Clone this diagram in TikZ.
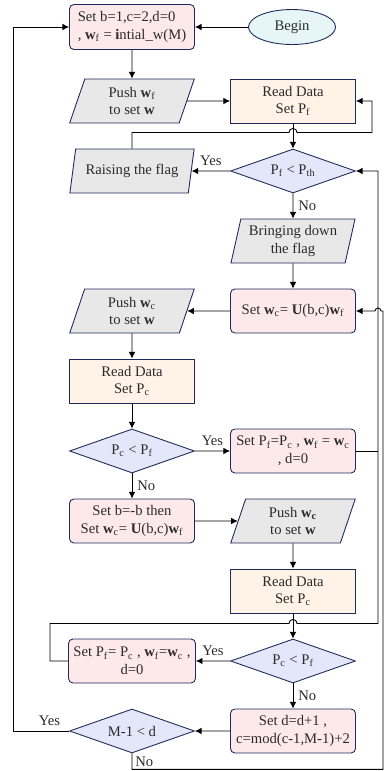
\documentclass[tikz,border=0pt]{standalone}
\usepackage{fontspec}
\setmainfont{Liberation Serif}
\usepackage{tikz}
\usetikzlibrary{positioning,calc}
\usetikzlibrary{arrows.meta,shapes.geometric}
\tikzset{>={Latex[length=4.5pt,width=4.5pt]}}
\definecolor{edgeblue}{HTML}{1F2A5A}
\definecolor{setpink}{HTML}{FDE8EA}
\definecolor{readorange}{HTML}{FEF3E6}
\definecolor{iogray}{HTML}{E8E8E8}
\definecolor{testblue}{HTML}{E4E7FA}
\definecolor{startcyan}{HTML}{E6F5F5}
\definecolor{textgray}{HTML}{2B2B2B}
\tikzset{
	setbox/.style={draw=edgeblue,minimum height=1.056cm,minimum width=3cm,align=center,rectangle,rounded corners=3pt,fill=setpink},
	readbox/.style={draw=edgeblue,minimum height=1.056cm,minimum width=3cm,align=center,rectangle,fill=readorange},
	iobox/.style={draw=edgeblue,minimum height=1.056cm,minimum width=3cm,align=center,trapezium,trapezium left angle=78,trapezium right angle=102,trapezium stretches=true,inner xsep=1pt,fill=iogray},
	decision/.style={draw=edgeblue,minimum height=1.056cm,minimum width=3cm,align=center,diamond,aspect=4,inner sep=0pt,fill=testblue},
	startnode/.style={draw=edgeblue,minimum height=0.84cm,minimum width=2.09cm,ellipse,inner sep=0pt,fill=startcyan},
}

\begin{document}
\begin{tikzpicture}[x=0.024cm,y=0.024cm,node distance=0.603cm,line width=0.6pt,
	font=\fontsize{10}{12}\selectfont,text=textgray]
	\useasboundingbox (0,0) rectangle (385,-771);
	
	% Start
	\node[setbox,align=left,minimum height=1.08cm] (init) at (132,-27) {Set b=1,c=2,d=0\\, \textbf{w}\textsubscript{f} = \textbf{i}ntial\_w(M)};
	\node[startnode,right=1.275cm of init] (begin) {Begin};
	
	% Left column
	\node[iobox,below=0.687cm of init] (pushf) {Push \textbf{w}\textsubscript{f}\\to set \textbf{w}};
	\node[iobox,below=of pushf] (raise) {Raising the flag};
	\node[iobox,below=2.283cm of raise] (pushc) {Push \textbf{w}\textsubscript{c}\\to set \textbf{w}};
	\node[readbox,below=of pushc] (readc) {Read Data\\Set P\textsubscript{c}};
	\node[decision,below=of readc] (test1) {P\textsubscript{c} < P\textsubscript{f}};
	\node[setbox,below=of test1] (flip) {Set b=-b then\\Set \textbf{w}\textsubscript{c}= \textbf{U}(b,c)\textbf{w}\textsubscript{f}};
	\node[setbox,below=2.283cm of flip] (keep2) {Set P\textsubscript{f}= P\textsubscript{c} , \textbf{w}\textsubscript{f}=\textbf{w}\textsubscript{c} ,\\d=0};
	\node[decision,below=of keep2] (limit) {M-1 < d};
	
	% Right column
	\node[readbox] (readf) at (293,-101) {Read Data\\Set P\textsubscript{f}};
	\node[decision,below=of readf] (flagtest) {P\textsubscript{f} < P\textsubscript{th}};
	\node[iobox,below=of flagtest] (flagdown) {Bringing down\\the flag};
	\node[setbox,below=of flagdown] (rotate) {Set \textbf{w}\textsubscript{c}= \textbf{U}(b,c)\textbf{w}\textsubscript{f}};
	\node[setbox,below=2.283cm of rotate] (keep) {Set P\textsubscript{f}=P\textsubscript{c} , \textbf{w}\textsubscript{f} = \textbf{w}\textsubscript{c}\\, d=0};
	\node[iobox,below=of keep] (pushc2) {Push \textbf{w\textsubscript{c}}\\to set \textbf{w}};
	\node[readbox,below=of pushc2] (readc2) {Read Data\\Set P\textsubscript{c}};
	\node[decision,below=of readc2] (test2) {P\textsubscript{c} < P\textsubscript{f}};
	\node[setbox,below=of test2] (advance) {Set d=d+1 ,\\c=mod(c-1,M-1)+2};
	
	% Bus lines
	\coordinate (busleft) at (13,0);
	\coordinate (busmid) at (50,0);
	\coordinate (loopx) at (372,0);
	\coordinate (busright) at (378,0);
	\coordinate (busedge) at (383,0);
	
	% Draw connections
	\draw[->] (begin) -- (init);
	\draw[->] (init) -- (pushf);
	\draw[->] (pushf) -- (readf);
	\draw[->] (readf) -- (flagtest);
	\draw[->] (flagtest) -- node[above]{Yes} (raise);
	\draw[->] (flagtest) -- node[right]{No} (flagdown);
	\draw[->] (flagdown) -- (rotate);
	\draw[->] (rotate) -- (pushc);
	\draw[->] (pushc) -- (readc);
	\draw[->] (readc) -- (test1);
	\draw[->] (test1) -- node[above]{Yes} (keep);
	\draw[->] (test1) -- node[right]{No} (flip);
	\draw[->] (flip) -- (pushc2);
	\draw[->] (pushc2) -- (readc2);
	\draw[->] (readc2) -- (test2);
	\draw[->] (test2) -- node[above]{Yes} (keep2);
	\draw[->] (test2) -- node[right]{No} (advance);
	\draw[->] (advance) -- (limit);
	
	% Loops back
	\draw[->] (raise.north) |- ($(readf.south)+(-4,-9)$) arc[start angle=180,end angle=0,radius=4] -| (readf.east -| loopx) -- (readf.east);
	\draw (keep.east) -- (keep.east -| busright);
	\draw[->] (keep2.west) -| ($(readc2.south -| busmid)+(0,-10)$) -- ($(readc2.south)+(-4,-10)$) arc[start angle=180,end angle=0,radius=4] -| (flagtest.east -| busright) -- (flagtest.east);
	\draw[->] (limit.west) -- node[above,pos=0.35]{Yes} (limit.west -| busleft) |- (init.west);
	\draw[->] (limit.south) -- node[right,inner sep=2pt]{No} ++(0,-16) -| (rotate.east -| busedge) -- ++(-2,0) arc[start angle=0,end angle=180,radius=3] -- (rotate.east);
	
\end{tikzpicture}
\end{document}
